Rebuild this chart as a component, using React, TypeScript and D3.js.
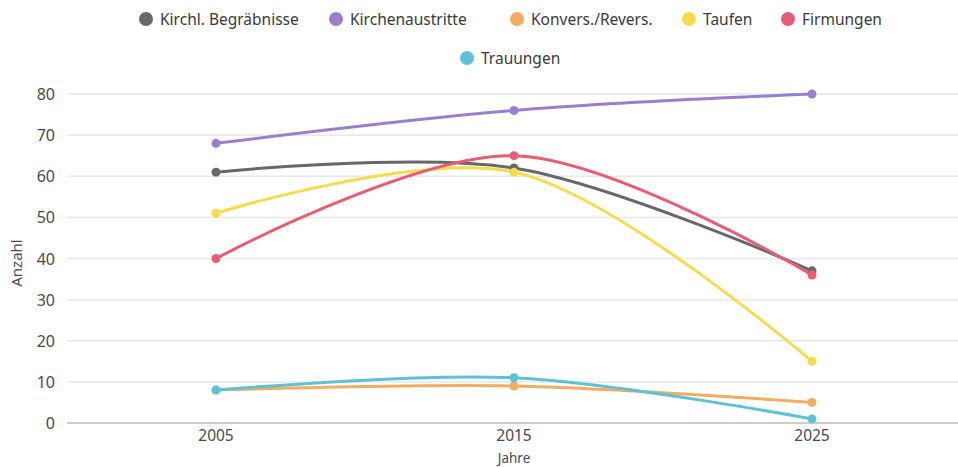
import React from "react";
import * as d3 from "d3";

const years = ["2005", "2015", "2025"];
const seriesNames = [
  "Kirchl. Begräbnisse",
  "Kirchenaustritte",
  "Konvers./Revers.",
  "Taufen",
  "Firmungen",
  "Trauungen",
];
const begraebnisse = [61, 62, 37];
const austritte = [68, 76, 80];
const konversionen = [8, 9, 5];
const taufen = [51, 61, 15];
const firmungen = [40, 65, 36];
const trauungen = [8, 11, 1];
const yTicks = [0, 10, 20, 30, 40, 50, 60, 70, 80];

const colors = ["#68686c", "#9a7fcc", "#f3ad62", "#f6db4c", "#e85d72", "#5ec1d6"];
const values = [begraebnisse, austritte, konversionen, taufen, firmungen, trauungen];

// legend layout: [row, circle x]
const legendPos: [number, number][] = [
  [0, 146],
  [0, 336],
  [0, 517],
  [0, 689],
  [0, 788],
  [1, 467],
];

const W = 958;
const H = 467;
const font = "'Noto Sans', 'Open Sans', sans-serif";

export default function App() {
  const x = d3.scaleBand().domain(years).range([67, 961]);
  const y = d3.scaleLinear().domain([0, 80]).range([423, 94]);
  const cx = (yr: string) => (x(yr) ?? 0) + x.bandwidth() / 2;

  const line = d3
    .line<number>()
    .x((_, i) => cx(years[i]))
    .y(d => y(d))
    .curve(d3.curveCatmullRom.alpha(0.5));

  return (
    <svg
      width={W}
      height={H}
      style={{ position: "absolute", left: 0, top: 0, background: "#fff" }}
      fontFamily={font}
    >
      {/* grid */}
      {yTicks.map(t => (
        <g key={t}>
          <line
            x1={67}
            x2={W}
            y1={y(t)}
            y2={y(t)}
            stroke={t === 0 ? "#bdbdbd" : "#e8e8e8"}
            strokeWidth={1.5}
          />
          <text x={55} y={y(t) + 6} textAnchor="end" fontSize={16} fill="#4a4a4a">
            {t}
          </text>
        </g>
      ))}

      {/* x ticks */}
      {years.map(yr => (
        <text key={yr} x={cx(yr)} y={441} textAnchor="middle" fontSize={15.5} fill="#4a4a4a">
          {yr}
        </text>
      ))}
      <text x={cx("2015")} y={462.5} textAnchor="middle" fontSize={13.5} fill="#4a4a4a">
        Jahre
      </text>
      <text
        transform={`translate(22,263) rotate(-90)`}
        textAnchor="middle"
        fontSize={15}
        fill="#4a4a4a"
      >
        Anzahl
      </text>

      {/* lines */}
      {values.map((vals, si) => (
        <g key={si}>
          <path d={line(vals) ?? ""} fill="none" stroke={colors[si]} strokeWidth={3} />
          {vals.map((v, i) => (
            <circle key={i} cx={cx(years[i])} cy={y(v)} r={4.5} fill={colors[si]} />
          ))}
        </g>
      ))}

      {/* legend */}
      {seriesNames.map((name, i) => {
        const [row, lx] = legendPos[i];
        const ly = row === 0 ? 19 : 58;
        return (
          <g key={name}>
            <circle cx={lx} cy={ly} r={7} fill={colors[i]} />
            <text x={lx + 14} y={ly + 5.5} fontSize={15.5} fill="#3a3a3a">
              {name}
            </text>
          </g>
        );
      })}
    </svg>
  );
}
